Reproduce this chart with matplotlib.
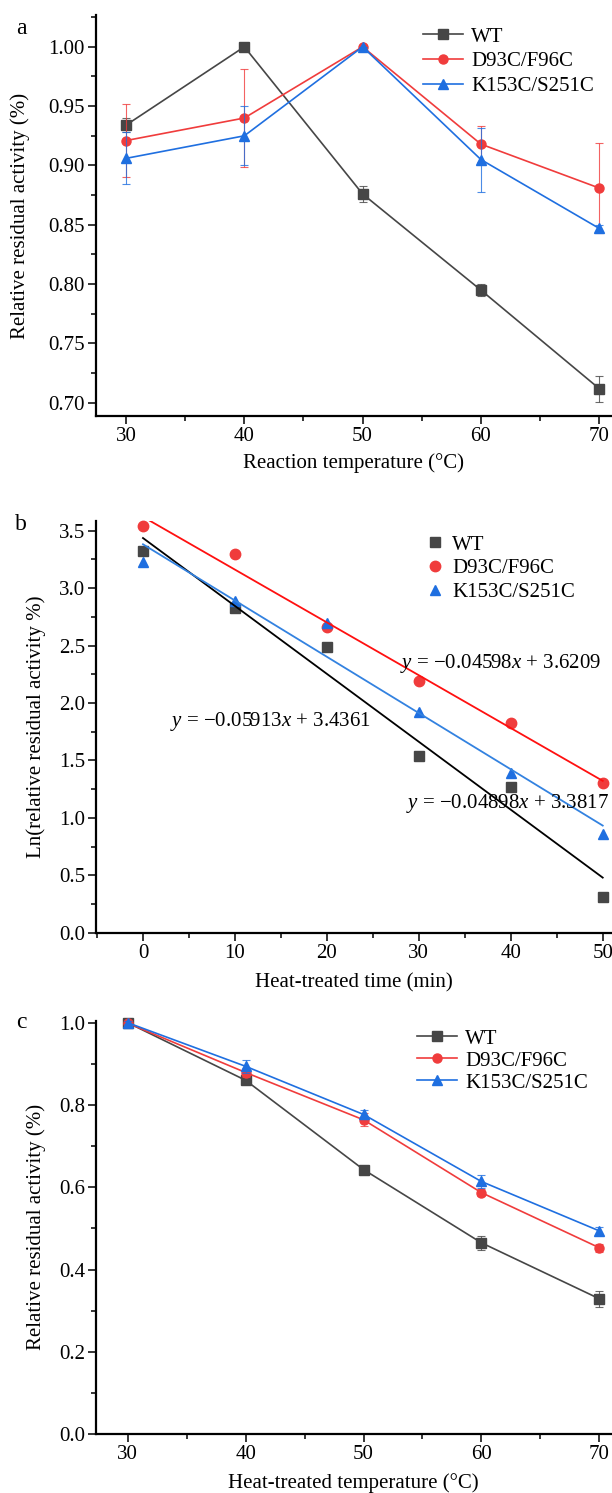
# -*- coding: utf-8 -*-
# Three stacked panels: activity vs reaction temperature, ln(activity) vs time, activity vs heat temperature
import numpy as np
import matplotlib
matplotlib.use("Agg")
import matplotlib.pyplot as plt
from matplotlib.ticker import MultipleLocator

plt.rcParams['font.family'] = ['Liberation Serif', 'DejaVu Serif']
plt.rcParams['mathtext.fontset'] = 'custom'
plt.rcParams['mathtext.rm'] = 'Liberation Serif'
plt.rcParams['mathtext.it'] = 'Liberation Serif:italic'

# names and colours
names = ['WT', 'D93C/F96C', 'K153C/S251C']
colors = ['#464646', '#f03c3c', '#1f6fe0']
markers = ['s', 'o', '^']

# panel a : reaction temperature
temp_a = [30, 40, 50, 60, 70]
wt_a = [0.934, 1.000, 0.876, 0.795, 0.712]
wt_a_err = [0.006, 0.0, 0.007, 0.005, 0.011]
d93_a = [0.921, 0.940, 1.000, 0.918, 0.881]
d93_a_err = [0.031, 0.041, 0.0, 0.015, 0.038]
k153_a = [0.906, 0.925, 1.000, 0.905, 0.847]
k153_a_err = [0.022, 0.025, 0.0, 0.027, 0.003]

# panel b : ln(residual activity) vs heat-treated time
time_b = [0, 10, 20, 30, 40, 50]
wt_b = [3.325, 2.830, 2.485, 1.535, 1.265, 0.315]
d93_b = [3.545, 3.300, 2.665, 2.190, 1.825, 1.305]
k153_b = [3.225, 2.885, 2.695, 1.920, 1.390, 0.860]
# fitted lines: slope, intercept
fit_slope = [-0.05913, -0.04598, -0.04898]
fit_icpt = [3.4361, 3.6209, 3.3817]
fit_start = [0.0, 0.5, 0.0]
fit_colors = ['#000000', '#ff1010', '#3382e0']

# panel c : heat-treated temperature
temp_c = [30, 40, 50, 60, 70]
wt_c = [1.000, 0.860, 0.643, 0.465, 0.329]
wt_c_err = [0.004, 0.008, 0.005, 0.017, 0.019]
d93_c = [0.999, 0.879, 0.764, 0.587, 0.453]
d93_c_err = [0.006, 0.010, 0.016, 0.009, 0.010]
k153_c = [1.000, 0.894, 0.777, 0.614, 0.494]
k153_c_err = [0.004, 0.015, 0.010, 0.015, 0.009]

FS = 15
W, H = 612, 1493
fig = plt.figure(figsize=(W / 100, H / 100), dpi=100)


def rect(top, bottom, left=96, right=611):
    return [left / W, 1 - bottom / H, (right - left) / W, (bottom - top) / H]


def style(ax):
    for s in ['top', 'right']:
        ax.spines[s].set_visible(False)
    for s in ['left', 'bottom']:
        ax.spines[s].set_linewidth(1.6)
    ax.tick_params(which='major', direction='out', length=6, width=1.1, labelsize=FS, pad=2)
    ax.tick_params(which='minor', direction='out', length=3.6, width=1.1)


def err_lines(ax, x, ys, errs):
    for y, e, c, m, n in zip(ys, errs, colors, markers, names):
        ax.errorbar(x, y, yerr=e, fmt='none', ecolor=c, elinewidth=0.8,
                    capsize=3, capthick=0.8, alpha=0.8, clip_on=False)
        ax.plot(x, y, color=c, marker=m, ms=6.5, lw=1.2, label=n, clip_on=False)


# ---- panel a
ax1 = fig.add_axes(rect(15, 416))
err_lines(ax1, temp_a, [wt_a, d93_a, k153_a], [wt_a_err, d93_a_err, k153_a_err])
ax1.set_xlim(27.46, 71.0)
ax1.set_ylim(0.6889, 1.0268)
ax1.xaxis.set_major_locator(MultipleLocator(10))
ax1.xaxis.set_minor_locator(MultipleLocator(5))
ax1.yaxis.set_major_locator(MultipleLocator(0.05))
ax1.yaxis.set_minor_locator(MultipleLocator(0.025))
ax1.yaxis.set_major_formatter(plt.FormatStrFormatter('%.2f'))
style(ax1)
ax1.set_ylabel('Relative residual activity (%)', fontsize=FS)
ax1.yaxis.set_label_coords(-0.128, 0.5)
ax1.set_xlabel('Reaction temperature (°C)', fontsize=FS)
ax1.xaxis.set_label_coords(0.5, -0.093)
ax1.legend(loc='upper left', bbox_to_anchor=(423 / W, 1 - 27 / H), bbox_transform=fig.transFigure,
           frameon=False, fontsize=FS, handlelength=1.9, handletextpad=0.4,
           labelspacing=0.25, borderpad=0, borderaxespad=0)
fig.text(21 / W, 1 - 28 / H, 'a', fontsize=17, ha='center', va='center')

# ---- panel b
ax2 = fig.add_axes(rect(520.7, 932.7))
for y, c, m, n in zip([wt_b, d93_b, k153_b], colors, markers, names):
    ax2.plot(time_b, y, ls='none', marker=m, ms=7.5, color=c, label=n, clip_on=False)
for sl, ic, x0, fc in zip(fit_slope, fit_icpt, fit_start, fit_colors):
    xx = np.array([x0, 50.0])
    ax2.plot(xx, sl * xx + ic, color=fc, lw=1.3)
ax2.set_xlim(-5.11, 50.9)
ax2.set_ylim(0, 3.587)
ax2.xaxis.set_major_locator(MultipleLocator(10))
ax2.xaxis.set_minor_locator(MultipleLocator(5))
ax2.yaxis.set_major_locator(MultipleLocator(0.5))
ax2.yaxis.set_minor_locator(MultipleLocator(0.25))
style(ax2)
ax2.set_ylabel('Ln(relative residual activity %)', fontsize=FS)
ax2.yaxis.set_label_coords(-0.097, 0.5)
ax2.set_xlabel('Heat-treated time (min)', fontsize=FS)
ax2.xaxis.set_label_coords(0.5, -0.098)
ax2.legend(loc='upper left', bbox_to_anchor=(427 / W, 1 - 535 / H), bbox_transform=fig.transFigure,
           frameon=False, fontsize=FS, handlelength=0.8, handletextpad=0.4,
           labelspacing=0.2, borderpad=0, borderaxespad=0)
eqs = [r'$y$ = −0.05913$x$ + 3.4361', r'$y$ = −0.04598$x$ + 3.6209', r'$y$ = −0.04898$x$ + 3.3817']
eq_pos = [(170, 721.7), (400, 663), (406, 803.3)]
for t, (px, py) in zip(eqs, eq_pos):
    fig.text(px / W, 1 - py / H, t, fontsize=FS, ha='left', va='center')
fig.text(21 / W, 1 - 525 / H, 'b', fontsize=17, ha='center', va='center')

# ---- panel c
ax3 = fig.add_axes(rect(1020.7, 1434))
err_lines(ax3, temp_c, [wt_c, d93_c, k153_c], [wt_c_err, d93_c_err, k153_c_err])
ax3.set_xlim(27.3, 71.0)
ax3.set_ylim(0, 1.005)
ax3.xaxis.set_major_locator(MultipleLocator(10))
ax3.xaxis.set_minor_locator(MultipleLocator(5))
ax3.yaxis.set_major_locator(MultipleLocator(0.2))
ax3.yaxis.set_minor_locator(MultipleLocator(0.1))
style(ax3)
ax3.set_ylabel('Relative residual activity (%)', fontsize=FS)
ax3.yaxis.set_label_coords(-0.097, 0.5)
ax3.set_xlabel('Heat-treated temperature (°C)', fontsize=FS)
ax3.xaxis.set_label_coords(0.5, -0.094)
ax3.legend(loc='upper left', bbox_to_anchor=(417 / W, 1 - 1029 / H), bbox_transform=fig.transFigure,
           frameon=False, fontsize=FS, handlelength=1.9, handletextpad=0.4,
           labelspacing=0.12, borderpad=0, borderaxespad=0)
fig.text(21 / W, 1 - 1022 / H, 'c', fontsize=17, ha='center', va='center')

fig.savefig('out.png', dpi=100)
